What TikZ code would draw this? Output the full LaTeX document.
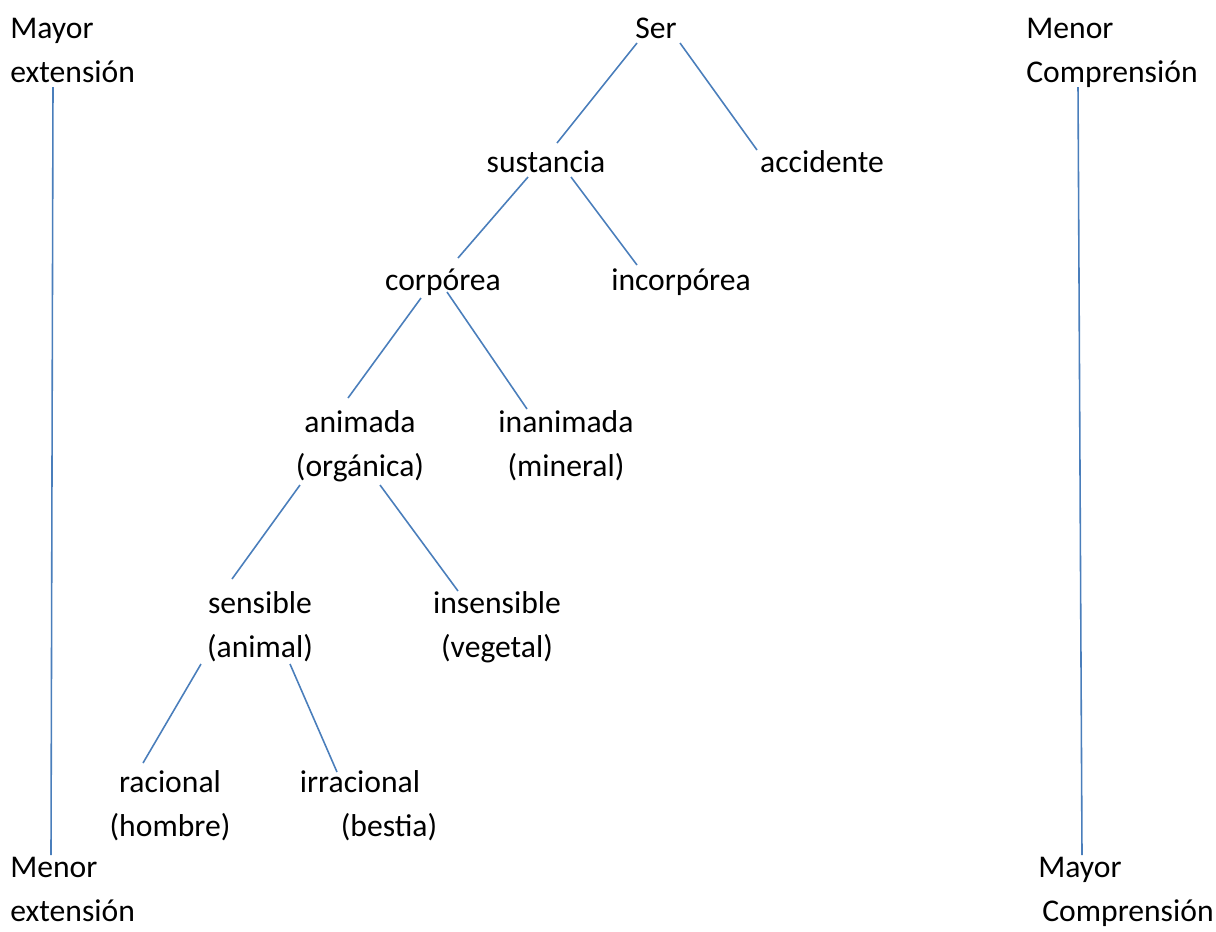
\documentclass[tikz,border=0pt]{standalone}
\usepackage{fontspec}
\setmainfont{Carlito}
\usepackage{tikz}

\definecolor{rama}{RGB}{74,126,187}

\tikzset{
    termino/.style={inner sep=0pt, anchor=base, align=center,
        font=\fontsize{18}{25}\selectfont},
    escala/.style={termino, anchor=base west, align=left},
    linea/.style={draw=rama, line width=0.9pt}
}

\begin{document}
\begin{tikzpicture}[x=0.02cm, y=-0.02cm]
    \useasboundingbox (0,0) rectangle (1216,931);

    % arbol de Porfirio (base = ultima linea)
    \node[termino] (ser)    at (656,38)  {Ser};
    \node[termino] (sust)   at (546,172) {sustancia};
    \node[termino] (acc)    at (822,172) {accidente};
    \node[termino] (corp)   at (443,290) {corpórea};
    \node[termino] (incorp) at (681,290) {incorpórea};
    \node[termino] (anim)   at (360,476) {animada\\(orgánica)};
    \node[termino] (inanim) at (566,476) {inanimada\\(mineral)};
    \node[termino] (sens)   at (260,657) {sensible\\(animal)};
    \node[termino] (insens) at (497,657) {insensible\\(vegetal)};
    \node[termino] (rac)    at (170,836) {racional\\(hombre)};
    \node[termino] (irrac)  at (360,836) {irracional\\\hspace*{1.16cm}(bestia)};

    % extremos de las escalas
    \node[escala] (mayext) at (10,82)   {Mayor\\extensión};
    \node[escala] (menext) at (10,921)  {Menor\\extensión};
    \node[escala] (mencom) at (1026,82) {Menor\\Comprensión};
    \node[escala] (maycom) at (1038,921) {Mayor\\\hspace*{0.08cm}Comprensión};

    % puntos de las ramas
    \coordinate (ser-i)    at (637,43);  \coordinate (sust-a)   at (557,143);
    \coordinate (ser-d)    at (680,43);  \coordinate (acc-a)    at (757,150);
    \coordinate (sust-i)   at (528,177); \coordinate (corp-a)   at (458,258);
    \coordinate (sust-d)   at (571,177); \coordinate (incorp-a) at (637,265);
    \coordinate (corp-i)   at (421,298); \coordinate (anim-a)   at (348,398);
    \coordinate (corp-d)   at (447,292); \coordinate (inanim-a) at (527,409);
    \coordinate (anim-i)   at (300,485); \coordinate (sens-a)   at (232,579);
    \coordinate (anim-d)   at (380,485); \coordinate (insens-a) at (458,591);
    \coordinate (sens-i)   at (201,664); \coordinate (rac-a)    at (143,763);
    \coordinate (sens-d)   at (290,664); \coordinate (irrac-a)  at (337,772);
    \coordinate (ext-s)    at (53,87);   \coordinate (ext-f)    at (51,855);
    \coordinate (com-s)    at (1078,87); \coordinate (com-f)    at (1082,855);

    \foreach \a/\b in {ser-i/sust-a, ser-d/acc-a, sust-i/corp-a, sust-d/incorp-a,
        corp-i/anim-a, corp-d/inanim-a, anim-i/sens-a, anim-d/insens-a,
        sens-i/rac-a, sens-d/irrac-a, ext-s/ext-f, com-s/com-f}
        \draw[linea] (\a) -- (\b);
\end{tikzpicture}
\end{document}
